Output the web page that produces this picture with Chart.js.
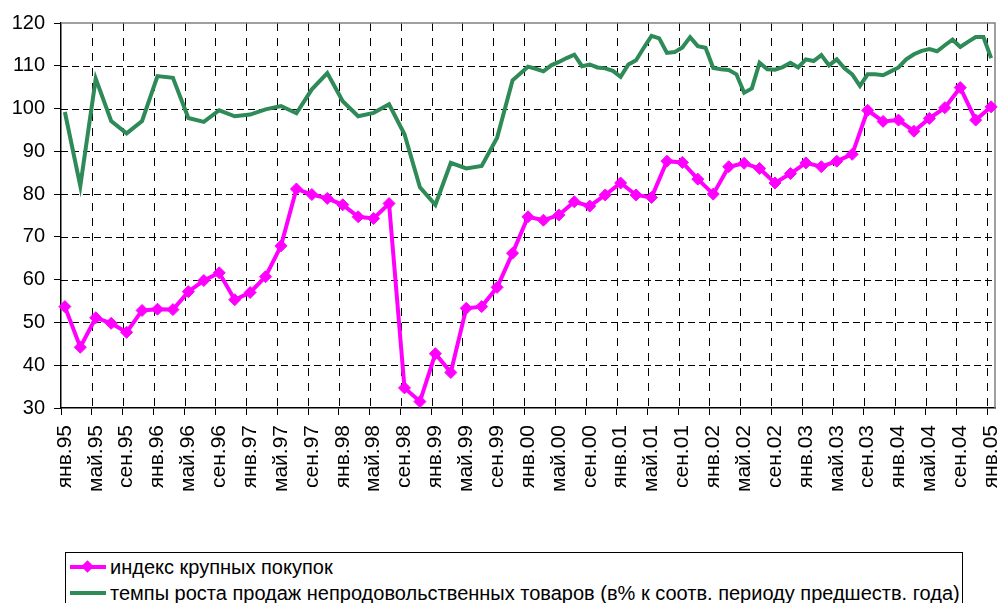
<!DOCTYPE html>
<html>
<head>
<meta charset="utf-8">
<script src="https://cdn.jsdelivr.net/npm/chart.js@4/dist/chart.umd.min.js"></script>
<style>
  body { margin: 0; background: #fff; font-family: "Liberation Sans", Arial, sans-serif; }
  #wrap { position: relative; width: 1002px; height: 603px; overflow: hidden; }
  #legend {
    position: absolute; left: 65px; top: 552px; width: 898px; height: 60px;
    border: 1px solid #000; box-sizing: border-box; font-size: 20px; color: #000;
  }
  .row { position: absolute; left: 4px; height: 26px; line-height: 26px; white-space: nowrap; }
  .sw { position: absolute; left: 0; top: 11px; width: 36px; height: 4px; }
  .dia { position: absolute; left: 13px; top: -3px; width: 9px; height: 9px; transform: rotate(45deg); background: #ff00ff; }
  .txt { position: absolute; left: 40px; top: 0; }
</style>
</head>
<body>
<div id="wrap">
  <canvas id="myChart" width="1002" height="548"></canvas>
  <div id="legend">
    <div class="row" style="top:1px"><span class="sw" style="background:#ff00ff"><span class="dia"></span></span><span class="txt">индекс крупных покупок</span></div>
    <div class="row" style="top:27px"><span class="sw" style="background:#2e8b57"></span><span class="txt">темпы роста продаж непродовольственных товаров (в% к соотв. периоду предшеств. года)</span></div>
  </div>
</div>
<script>
const months = ["янв", "фев", "мар", "апр", "май", "июн", "июл", "авг", "сен", "окт", "ноя", "дек"];
const years = ["95", "96", "97", "98", "99", "00", "01", "02", "03", "04", "05"];

// индекс крупных покупок, every 2 months from янв.95 to янв.05
const bigPurchases = [
  53.7, 44.2, 51.1, 49.8, 47.7, 52.8, 53.1, 53.0, 57.2, 59.8,
  61.6, 55.3, 57.0, 60.7, 67.9, 81.2, 79.9, 79.0, 77.5, 74.7,
  74.3, 77.8, 34.7, 31.5, 42.7, 38.3, 53.3, 53.7, 58.2, 66.2,
  74.7, 73.9, 75.1, 78.2, 77.2, 79.8, 82.6, 79.8, 79.2, 87.7,
  87.4, 83.5, 80.0, 86.4, 87.2, 86.0, 82.6, 84.8, 87.3, 86.4,
  87.7, 89.3, 99.6, 97.0, 97.3, 94.7, 97.7, 100.2, 104.9, 97.3,
  100.4,
];

// темпы роста продаж: every 2 months янв.95 - ноя.99
const salesEarly = [
  99.2, 81.9, 107.0, 97.1, 94.2, 97.1, 107.6, 107.2, 97.8, 96.9,
  99.6, 98.2, 98.6, 99.8, 100.6, 98.9, 104.5, 108.3, 101.7, 98.2,
  99.0, 101.0, 94.0, 81.6, 77.5, 87.3, 86.0, 86.6, 93.2, 106.6,
];
// monthly янв.00 - янв.05
const salesLate = [
  109.8, 109.3, 108.7, 110.1, 110.9, 111.8, 112.6, 109.9, 110.3, 109.6,
  109.4, 108.8, 107.4, 110.3, 111.3, 114.2, 117.0, 116.4, 113.0, 113.2,
  114.3, 116.7, 114.6, 114.2, 109.5, 109.2, 109.0, 108.0, 103.7, 104.7,
  110.7, 109.2, 109.1, 109.7, 110.7, 109.6, 111.5, 111.1, 112.5, 110.1,
  111.5, 109.4, 108.0, 105.3, 108.0, 108.0, 107.8, 108.7, 109.6, 111.5,
  112.7, 113.5, 113.9, 113.4, 114.8, 116.1, 114.4, 115.6, 116.7, 116.7,
  111.8,
];

const yTicks = [30, 40, 50, 60, 70, 80, 90, 100, 110, 120];

// monthly category axis
const labels = [];
years.forEach((y, yi) => {
  months.forEach((m) => {
    if (yi < years.length - 1 || m === "янв") labels.push(m + "." + y);
  });
});

const pinkData = labels.map((_, i) => (i % 2 === 0 ? bigPurchases[i / 2] : null));
const greenData = labels.map((_, i) => {
  if (i >= 60) return salesLate[i - 60];
  return i % 2 === 0 ? salesEarly[i / 2] : null;
});

// dashed grid + grey frame (top / right) like the excel plot area
const gridFrame = {
  id: "gridFrame",
  beforeDatasetsDraw(chart) {
    const c = chart.ctx, a = chart.chartArea;
    const x = chart.scales.x, y = chart.scales.y;
    c.save();
    c.lineWidth = 1;
    c.strokeStyle = "#000";
    c.setLineDash([7, 4]);
    yTicks.slice(1, -1).forEach((v) => {
      const py = Math.round(y.getPixelForValue(v)) + 0.5;
      c.beginPath();
      c.moveTo(a.left, py);
      c.lineTo(a.right, py);
      c.stroke();
    });
    c.setLineDash([8, 7]);
    const half = (x.getPixelForValue(1) - x.getPixelForValue(0)) / 2;
    for (let i = 4; i < labels.length; i += 4) {
      const px = Math.round(x.getPixelForValue(i) - half) + 0.5;
      c.beginPath();
      c.moveTo(px, a.top);
      c.lineTo(px, a.bottom);
      c.stroke();
    }
    c.setLineDash([]);
    c.strokeStyle = "#808080";
    c.lineWidth = 1.5;
    c.beginPath();
    c.moveTo(a.left, a.top);
    c.lineTo(a.right, a.top);
    c.lineTo(a.right, a.bottom);
    c.stroke();
    c.restore();
  },
};

new Chart(document.getElementById("myChart"), {
  type: "line",
  data: {
    labels: labels,
    datasets: [
      {
        label: "темпы роста продаж непродовольственных товаров (в% к соотв. периоду предшеств. года)",
        data: greenData,
        borderColor: "#2e8b57",
        borderWidth: 4,
        pointRadius: 0,
        spanGaps: true,
        tension: 0,
      },
      {
        label: "индекс крупных покупок",
        data: pinkData,
        borderColor: "#ff00ff",
        backgroundColor: "#ff00ff",
        borderWidth: 4,
        pointStyle: "rectRot",
        pointRadius: 6,
        pointBorderWidth: 1,
        spanGaps: true,
        tension: 0,
      },
    ],
  },
  options: {
    responsive: false,
    animation: false,
    layout: { padding: { top: 23, right: 5, left: 0, bottom: 0 } },
    plugins: { legend: { display: false }, tooltip: { enabled: false } },
    scales: {
      x: {
        offset: true,
        afterFit: (s) => { s.height = 140; s.paddingLeft = 0; s.paddingRight = 0; },
        grid: {
          offset: true,
          drawOnChartArea: false,
          tickColor: (c) => (c.index % 4 === 0 ? "#000" : "transparent"),
          tickLength: 7,
        },
        border: { color: "#000", width: 1.5 },
        ticks: {
          autoSkip: false,
          maxRotation: 90,
          minRotation: 90,
          padding: 10,
          color: "#000",
          font: { family: "'Liberation Sans', Arial, sans-serif", size: 21 },
          callback: (v, i) => (i % 4 === 0 ? labels[i] : ""),
        },
      },
      y: {
        min: yTicks[0],
        max: yTicks[yTicks.length - 1],
        afterFit: (s) => { s.width = 61; },
        afterBuildTicks: (s) => { s.ticks = yTicks.map((v) => ({ value: v })); },
        grid: {
          drawOnChartArea: false,
          tickColor: "#000",
          tickLength: 7,
        },
        border: { color: "#000", width: 1.5 },
        ticks: {
          padding: 9,
          color: "#000",
          font: { family: "'Liberation Sans', Arial, sans-serif", size: 20 },
        },
      },
    },
  },
  plugins: [gridFrame],
});
</script>
</body>
</html>
